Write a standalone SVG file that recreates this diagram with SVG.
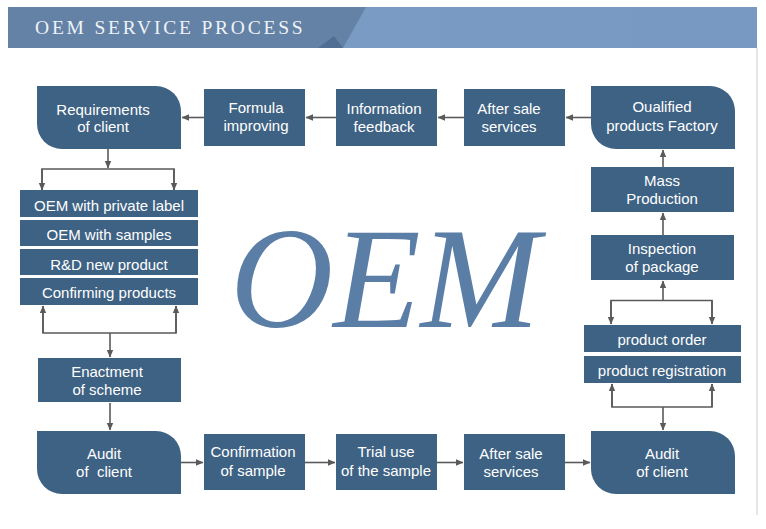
<svg xmlns="http://www.w3.org/2000/svg" width="766" height="529" viewBox="0 0 766 529">
<defs>
<marker id="ah" markerWidth="8" markerHeight="8" refX="7" refY="4" orient="auto" markerUnits="userSpaceOnUse">
<path d="M0,0.8 L7.5,4 L0,7.2 z" fill="#5a5a5a"/>
</marker>
<linearGradient id="lite" x1="0" y1="0" x2="1" y2="0">
<stop offset="0" stop-color="#86a5cc"/>
<stop offset="0.4" stop-color="#7a9bc4"/>
<stop offset="1" stop-color="#7899c2"/>
</linearGradient>
</defs>
<style>
.box{fill:#3e6283}
.t{font-family:"Liberation Sans",Arial,sans-serif;font-size:15px;fill:#ffffff;text-anchor:middle;white-space:pre}
.c{stroke:#5a5a5a;stroke-width:1.6;fill:none}
.a{stroke:#5a5a5a;stroke-width:1.6;fill:none;marker-end:url(#ah)}
</style>
<rect width="766" height="529" fill="#ffffff"/>
<g id="banner">
<rect x="8" y="7" width="749" height="41" fill="url(#lite)"/>
<polygon points="8,7 366,7 343,48 8,48" fill="#6482a6"/>
<polygon points="318,48 343,48 334,36" fill="#4f6e93"/>
<text x="35" y="34" font-family="'Liberation Serif','Times New Roman',serif" font-size="19.5" letter-spacing="2.8" fill="#eef3f6">OEM SERVICE PROCESS</text>
</g>
<line x1="757" y1="48" x2="757" y2="515" stroke="#d6d6d6" stroke-width="1.2"/>
<g id="watermark">
<text x="230" y="327" font-family="'Liberation Serif','Times New Roman',serif" font-style="italic" font-size="143" fill="#5b7ea6">OEM</text>
</g>
<g id="connectors">
<line class="a" x1="204" y1="117.5" x2="182" y2="117.5"/>
<line class="a" x1="336" y1="117.5" x2="306" y2="117.5"/>
<line class="a" x1="464" y1="117.5" x2="438" y2="117.5"/>
<line class="a" x1="591" y1="117.5" x2="566" y2="117.5"/>
<line class="a" x1="108" y1="149" x2="108" y2="168"/>
<polyline class="c" points="42,190 42,169 174,169 174,190"/>
<line class="a" x1="42" y1="169" x2="42" y2="190"/>
<line class="a" x1="174" y1="169" x2="174" y2="190"/>
<polyline class="c" points="43,306 43,333 176,333 176,306"/>
<line class="a" x1="43" y1="333" x2="43" y2="306"/>
<line class="a" x1="176" y1="333" x2="176" y2="306"/>
<line class="a" x1="110" y1="333" x2="110" y2="357"/>
<line class="a" x1="110" y1="403" x2="110" y2="430"/>
<line class="a" x1="181" y1="462.5" x2="203" y2="462.5"/>
<line class="a" x1="305" y1="462.5" x2="335" y2="462.5"/>
<line class="a" x1="437" y1="462.5" x2="463" y2="462.5"/>
<line class="a" x1="565" y1="462.5" x2="590" y2="462.5"/>
<line class="a" x1="663" y1="407" x2="663" y2="430"/>
<polyline class="c" points="612,384 612,407 712,407 712,384"/>
<line class="a" x1="612" y1="407" x2="612" y2="384"/>
<line class="a" x1="712" y1="407" x2="712" y2="384"/>
<polyline class="c" points="611,324 611,300.5 712,300.5 712,324"/>
<line class="a" x1="611" y1="300.5" x2="611" y2="324"/>
<line class="a" x1="712" y1="300.5" x2="712" y2="324"/>
<line class="a" x1="663" y1="300.5" x2="663" y2="281"/>
<line class="a" x1="663" y1="235" x2="663" y2="213"/>
<line class="a" x1="663" y1="167" x2="663" y2="150"/>
</g>
<g id="n-requirements">
<path class="box" d="M37,86 H156 A25,25 0 0 1 181,111 V149 H62 A25,25 0 0 1 37,124 Z"/>
<text class="t" x="103" y="114.5">Requirements</text>
<text class="t" x="103" y="132">of client</text>
</g>
<g id="n-formula">
<rect class="box" x="204" y="89" width="101" height="57"/>
<text class="t" x="256" y="112.5">Formula</text>
<text class="t" x="256" y="130.5">improving</text>
</g>
<g id="n-information">
<rect class="box" x="336" y="89" width="101" height="57"/>
<text class="t" x="384" y="114">Information</text>
<text class="t" x="384" y="132">feedback</text>
</g>
<g id="n-aftersale-top">
<rect class="box" x="464" y="89" width="101" height="57"/>
<text class="t" x="509" y="114">After sale</text>
<text class="t" x="509" y="132">services</text>
</g>
<g id="n-qualified">
<path class="box" d="M591,86 H710 A25,25 0 0 1 735,111 V149 H616 A25,25 0 0 1 591,124 Z"/>
<text class="t" x="662" y="112">Oualified</text>
<text class="t" x="662" y="130.5">products Factory</text>
</g>
<g id="n-options">
<rect class="box" x="20" y="190" width="178" height="27"/>
<text class="t" x="109" y="211">OEM with private label</text>
<rect class="box" x="20" y="220" width="178" height="26"/>
<text class="t" x="109" y="240">OEM with samples</text>
<rect class="box" x="20" y="249" width="178" height="26"/>
<text class="t" x="109" y="269.5">R&amp;D new product</text>
<rect class="box" x="20" y="278" width="178" height="27"/>
<text class="t" x="109" y="298">Confirming products</text>
</g>
<g id="n-enactment">
<rect class="box" x="38" y="358" width="143" height="44"/>
<text class="t" x="107" y="377">Enactment</text>
<text class="t" x="107" y="394.5">of scheme</text>
</g>
<g id="n-audit-left">
<path class="box" d="M37,431 H156 A25,25 0 0 1 181,456 V494 H62 A25,25 0 0 1 37,469 Z"/>
<text class="t" x="104" y="459">Audit</text>
<text class="t" x="104" y="477">of  client</text>
</g>
<g id="n-confirmation">
<rect class="box" x="204" y="434" width="101" height="56"/>
<text class="t" x="253" y="457">Confirmation</text>
<text class="t" x="253" y="475.5">of sample</text>
</g>
<g id="n-trial">
<rect class="box" x="336" y="434" width="101" height="56"/>
<text class="t" x="386" y="457">Trial use</text>
<text class="t" x="386" y="475.5">of the sample</text>
</g>
<g id="n-aftersale-bottom">
<rect class="box" x="464" y="434" width="101" height="56"/>
<text class="t" x="511" y="459">After sale</text>
<text class="t" x="511" y="477">services</text>
</g>
<g id="n-audit-right">
<path class="box" d="M591,431 H710 A25,25 0 0 1 735,456 V494 H616 A25,25 0 0 1 591,469 Z"/>
<text class="t" x="662" y="459">Audit</text>
<text class="t" x="662" y="477">of client</text>
</g>
<g id="n-mass">
<rect class="box" x="591" y="167" width="143" height="45"/>
<text class="t" x="662" y="186">Mass</text>
<text class="t" x="662" y="204">Production</text>
</g>
<g id="n-inspection">
<rect class="box" x="591" y="235" width="143" height="45"/>
<text class="t" x="662" y="254">Inspection</text>
<text class="t" x="662" y="271.5">of package</text>
</g>
<g id="n-order">
<rect class="box" x="584" y="325" width="157" height="27"/>
<text class="t" x="662" y="345">product order</text>
<rect class="box" x="584" y="356" width="157" height="27"/>
<text class="t" x="662" y="376">product registration</text>
</g>
</svg>
